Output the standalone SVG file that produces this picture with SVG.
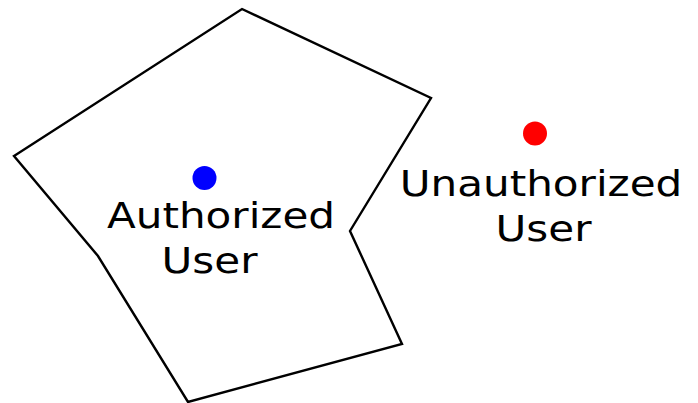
<svg xmlns="http://www.w3.org/2000/svg" width="698" height="403" viewBox="0 0 698 403">
  <style>
    .zone { fill: none; stroke: #000; stroke-width: 2.4; stroke-linejoin: miter; }
    .label { font-family: "DejaVu Sans", sans-serif; font-size: 36px; fill: #000; text-anchor: middle; }
  </style>
  <rect width="698" height="403" fill="#fff"/>
  <g id="secure-zone">
    <polygon class="zone" points="242,9 431,98 350,231 402,344 188,402 98,256 14,156"/>
  </g>
  <g id="authorized-user">
    <circle cx="204.5" cy="178" r="12" fill="#0000ff"/>
    <text class="label" transform="translate(221,228) scale(1.17,1)">Authorized</text>
    <text class="label" transform="translate(209.5,273) scale(1.17,1)">User</text>
  </g>
  <g id="unauthorized-user">
    <circle cx="535" cy="133.5" r="12" fill="#ff0000"/>
    <text class="label" transform="translate(541,196) scale(1.17,1)">Unauthorized</text>
    <text class="label" transform="translate(543.5,241) scale(1.17,1)">User</text>
  </g>
  <g id="connectors"/>
</svg>
